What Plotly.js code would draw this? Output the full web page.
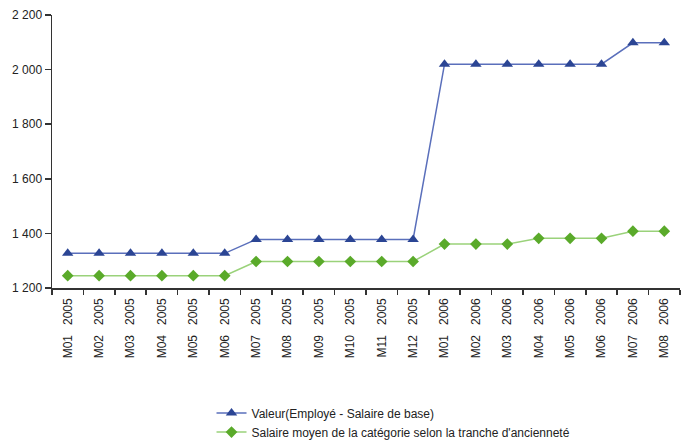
<!DOCTYPE html>
<html><head><meta charset="utf-8">
<script src="https://cdn.plot.ly/plotly-3.0.1.min.js"></script>
<style>body{margin:0;background:#fff}#c{width:681px;height:440px}</style>
</head><body><div id="c"></div>
<script>
const categories = ["M01   2005","M02   2005","M03   2005","M04   2005","M05   2005","M06   2005","M07   2005","M08   2005","M09   2005","M10   2005","M11   2005","M12   2005","M01   2006","M02   2006","M03   2006","M04   2006","M05   2006","M06   2006","M07   2006","M08   2006"];
const valeur = [1327,1327,1327,1327,1327,1327,1378,1378,1378,1378,1378,1378,2020,2020,2020,2020,2020,2020,2098,2098];
const salaireMoyen = [1245,1245,1245,1245,1245,1245,1297,1297,1297,1297,1297,1297,1361,1361,1361,1382,1382,1382,1408,1408];
const yTicks = [1200,1400,1600,1800,2000,2200];

const font = {family:"Liberation Sans, Arial, sans-serif", size:12, color:"#222"};
const data = [
  {x:categories, y:valeur, type:"scatter", mode:"lines+markers", name:"Valeur(Employé - Salaire de base)",
   line:{color:"#5a6fbb", width:1.5}, marker:{symbol:"triangle-up", size:10, color:"#2b4594"}},
  {x:categories, y:salaireMoyen, type:"scatter", mode:"lines+markers", name:"Salaire moyen de la catégorie selon la tranche d'ancienneté",
   line:{color:"#9ad27a", width:1.5}, marker:{symbol:"diamond", size:9, color:"#5aaa2a"}}
];
const layout = {
  width:681, height:440, margin:{l:52, r:1, t:15, b:152, autoexpand:false},
  paper_bgcolor:"#fff", plot_bgcolor:"#fff", font:font, separators:", ", showlegend:true,
  xaxis:{type:"category", range:[-0.5,19.5], showgrid:false, zeroline:false, showline:true, linecolor:"#333", linewidth:1.5,
    ticks:"outside", tickson:"boundaries", ticklen:5, tickcolor:"#333", tickwidth:1.5, tickangle:-90, ticklabelstandoff:4,
    automargin:false, tickfont:{family:font.family, size:12, color:"#222"}},
  yaxis:{range:[1200,2200], tickvals:yTicks, tickformat:",", showgrid:false, zeroline:false, showline:true, linecolor:"#333", linewidth:1.5,
    ticks:"outside", ticklen:6, tickcolor:"#333", tickwidth:1.5, automargin:false, tickfont:{family:font.family, size:12, color:"#222"}},
  legend:{orientation:"v", x:0.254, xanchor:"left", y:-0.405, yanchor:"top", itemwidth:30, tracegroupgap:0,
    font:{family:font.family, size:12, color:"#222"}, bgcolor:"rgba(0,0,0,0)"}
};
Plotly.newPlot("c", data, layout, {displayModeBar:false, staticPlot:true});
</script></body></html>
